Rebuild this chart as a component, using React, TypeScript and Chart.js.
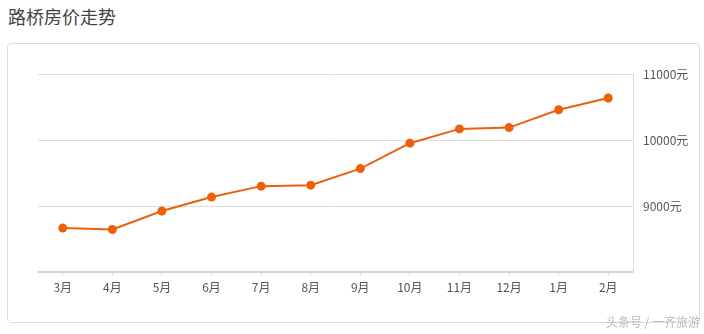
import React, { useEffect, useRef } from "react";
import { Chart, registerables } from "chart.js";

Chart.register(...registerables);

const title = "路桥房价走势";
const months = ["3月", "4月", "5月", "6月", "7月", "8月", "9月", "10月", "11月", "12月", "1月", "2月"];
const prices = [8665, 8644, 8925, 9135, 9301, 9316, 9567, 9952, 10168, 10188, 10459, 10636];
const yMin = 8000;
const yMax = 11000;
const yStep = 1000;
const yUnit = "元";
const watermark = "头条号 / 一齐旅游";

const FONT = "'Noto Sans CJK SC', 'Noto Sans', sans-serif";

export default function App() {
  const ref = useRef<HTMLCanvasElement | null>(null);

  useEffect(() => {
    if (!ref.current) return;
    const chart = new Chart(ref.current, {
      type: "line",
      data: {
        labels: months,
        datasets: [
          {
            data: prices,
            borderColor: "#e8620c",
            backgroundColor: "#ee5f0a",
            pointBackgroundColor: "#ee5f0a",
            pointBorderColor: "#ee5f0a",
            pointBorderWidth: 0,
            borderWidth: 2,
            pointRadius: 4.5,
            tension: 0,
            fill: false,
          },
        ],
      },
      options: {
        animation: false,
        responsive: false,
        maintainAspectRatio: false,
        layout: { padding: { left: 38, top: 74, right: 0, bottom: 0 } },
        plugins: { legend: { display: false }, tooltip: { enabled: false } },
        scales: {
          x: {
            type: "category",
            offset: true,
            grid: {
              display: true,
              drawOnChartArea: false,
              drawTicks: true,
              tickLength: 4,
              color: "#dddddd",
              offset: false,
            },
            border: { display: true, color: "#d4d4d4", width: 2 },
            ticks: {
              color: "#555555",
              font: { family: FONT, size: 12 },
              padding: 4,
              maxRotation: 0,
              autoSkip: false,
            },
            afterFit: (s: any) => {
              s.height = 334 - 272;
            },
          },
          y: {
            position: "right",
            min: yMin,
            max: yMax,
            grid: { color: "#dddddd", drawTicks: false, lineWidth: 1 },
            border: { display: true, color: "#dddddd", width: 1 },
            ticks: {
              stepSize: yStep,
              color: "#555555",
              font: { family: FONT, size: 12 },
              padding: 10,
              callback: (v: any) => (Number(v) === yMin ? "" : `${v}${yUnit}`),
            },
            afterFit: (s: any) => {
              s.width = 704 - 633;
            },
          },
        },
      },
    });
    return () => chart.destroy();
  }, []);

  return (
    <div style={{ position: "absolute", left: 0, top: 0, width: 704, height: 334, background: "#fff", overflow: "hidden", fontFamily: FONT }}>
      <div style={{ position: "absolute", left: 8, top: 4, fontSize: 18, color: "#444", lineHeight: "24px" }}>{title}</div>
      <div
        style={{
          position: "absolute",
          left: 7,
          top: 43,
          width: 693,
          height: 280,
          border: "1px solid #dcdcdc",
          borderRadius: 4,
          boxSizing: "border-box",
        }}
      />
      <canvas ref={ref} width={704} height={334} style={{ position: "absolute", left: 0, top: 0 }} />
      <div style={{ position: "absolute", right: 4, top: 314, fontSize: 12, color: "#bbb", lineHeight: "16px" }}>{watermark}</div>
    </div>
  );
}
